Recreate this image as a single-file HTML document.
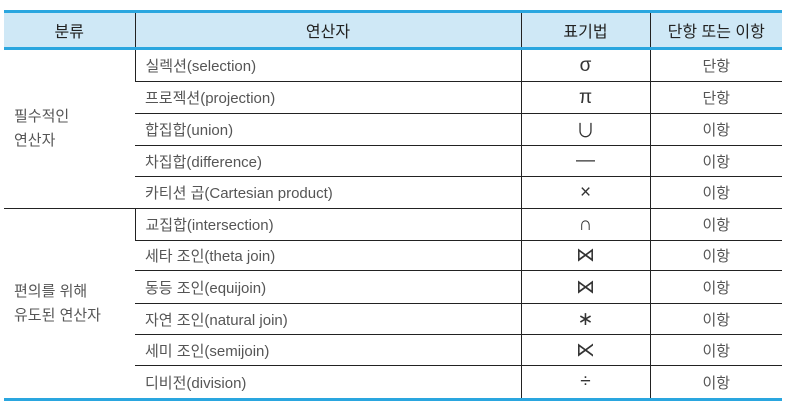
<!DOCTYPE html>
<html><head><meta charset="utf-8"><style>
body{margin:0;width:789px;height:407px;background:#fff;overflow:hidden;font-family:"Liberation Sans","Noto Sans CJK KR",sans-serif;}
table{position:absolute;left:4px;top:10px;width:778px;border-collapse:collapse;table-layout:fixed;font-size:15px;color:#555;}
th{background:#cfe8f6;color:#222;font-weight:normal;font-size:16px;height:34px;border-top:3px solid #2aa6df;border-bottom:3px solid #2aa6df;border-left:1px solid #222;padding:0;}
th:first-child{border-left:none;}
td{border-top:1px solid #222;border-left:1px solid #222;padding:0;text-align:center;}
td:first-child{border-left:none;}
td.op{text-align:left;padding-left:10px;}
td.cat{text-align:left;padding-left:10px;line-height:24px;}
td.cat2{border-bottom:3px solid #2aa6df;}
tr.last td{border-bottom:3px solid #2aa6df;}
.sym{color:#333;font-size:19px;}
</style></head><body>
<table>
<colgroup><col style="width:131px"><col style="width:386px"><col style="width:129px"><col style="width:132px"></colgroup>
<tr><th>분류</th><th>연산자</th><th>표기법</th><th>단항 또는 이항</th></tr>
<tr style="height:33px"><td class="cat" rowspan="5">필수적인<br>연산자</td><td class="op">실렉션(selection)</td><td class="sym">σ</td><td>단항</td></tr>
<tr style="height:32px"><td class="op">프로젝션(projection)</td><td class="sym">π</td><td>단항</td></tr>
<tr style="height:32px"><td class="op">합집합(union)</td><td class="sym">∪</td><td>이항</td></tr>
<tr style="height:31px"><td class="op">차집합(difference)</td><td class="sym">—</td><td>이항</td></tr>
<tr style="height:32px"><td class="op">카티션 곱(Cartesian product)</td><td class="sym">×</td><td>이항</td></tr>
<tr style="height:32px"><td class="cat cat2" rowspan="6">편의를 위해<br>유도된 연산자</td><td class="op">교집합(intersection)</td><td class="sym">∩</td><td>이항</td></tr>
<tr style="height:30px"><td class="op">세타 조인(theta join)</td><td class="sym">⋈</td><td>이항</td></tr>
<tr style="height:33px"><td class="op">동등 조인(equijoin)</td><td class="sym">⋈</td><td>이항</td></tr>
<tr style="height:31px"><td class="op">자연 조인(natural join)</td><td class="sym">∗</td><td>이항</td></tr>
<tr style="height:31px"><td class="op">세미 조인(semijoin)</td><td class="sym">⋉</td><td>이항</td></tr>
<tr class="last" style="height:34px"><td class="op">디비전(division)</td><td class="sym">÷</td><td>이항</td></tr>
</table>
</body></html>
